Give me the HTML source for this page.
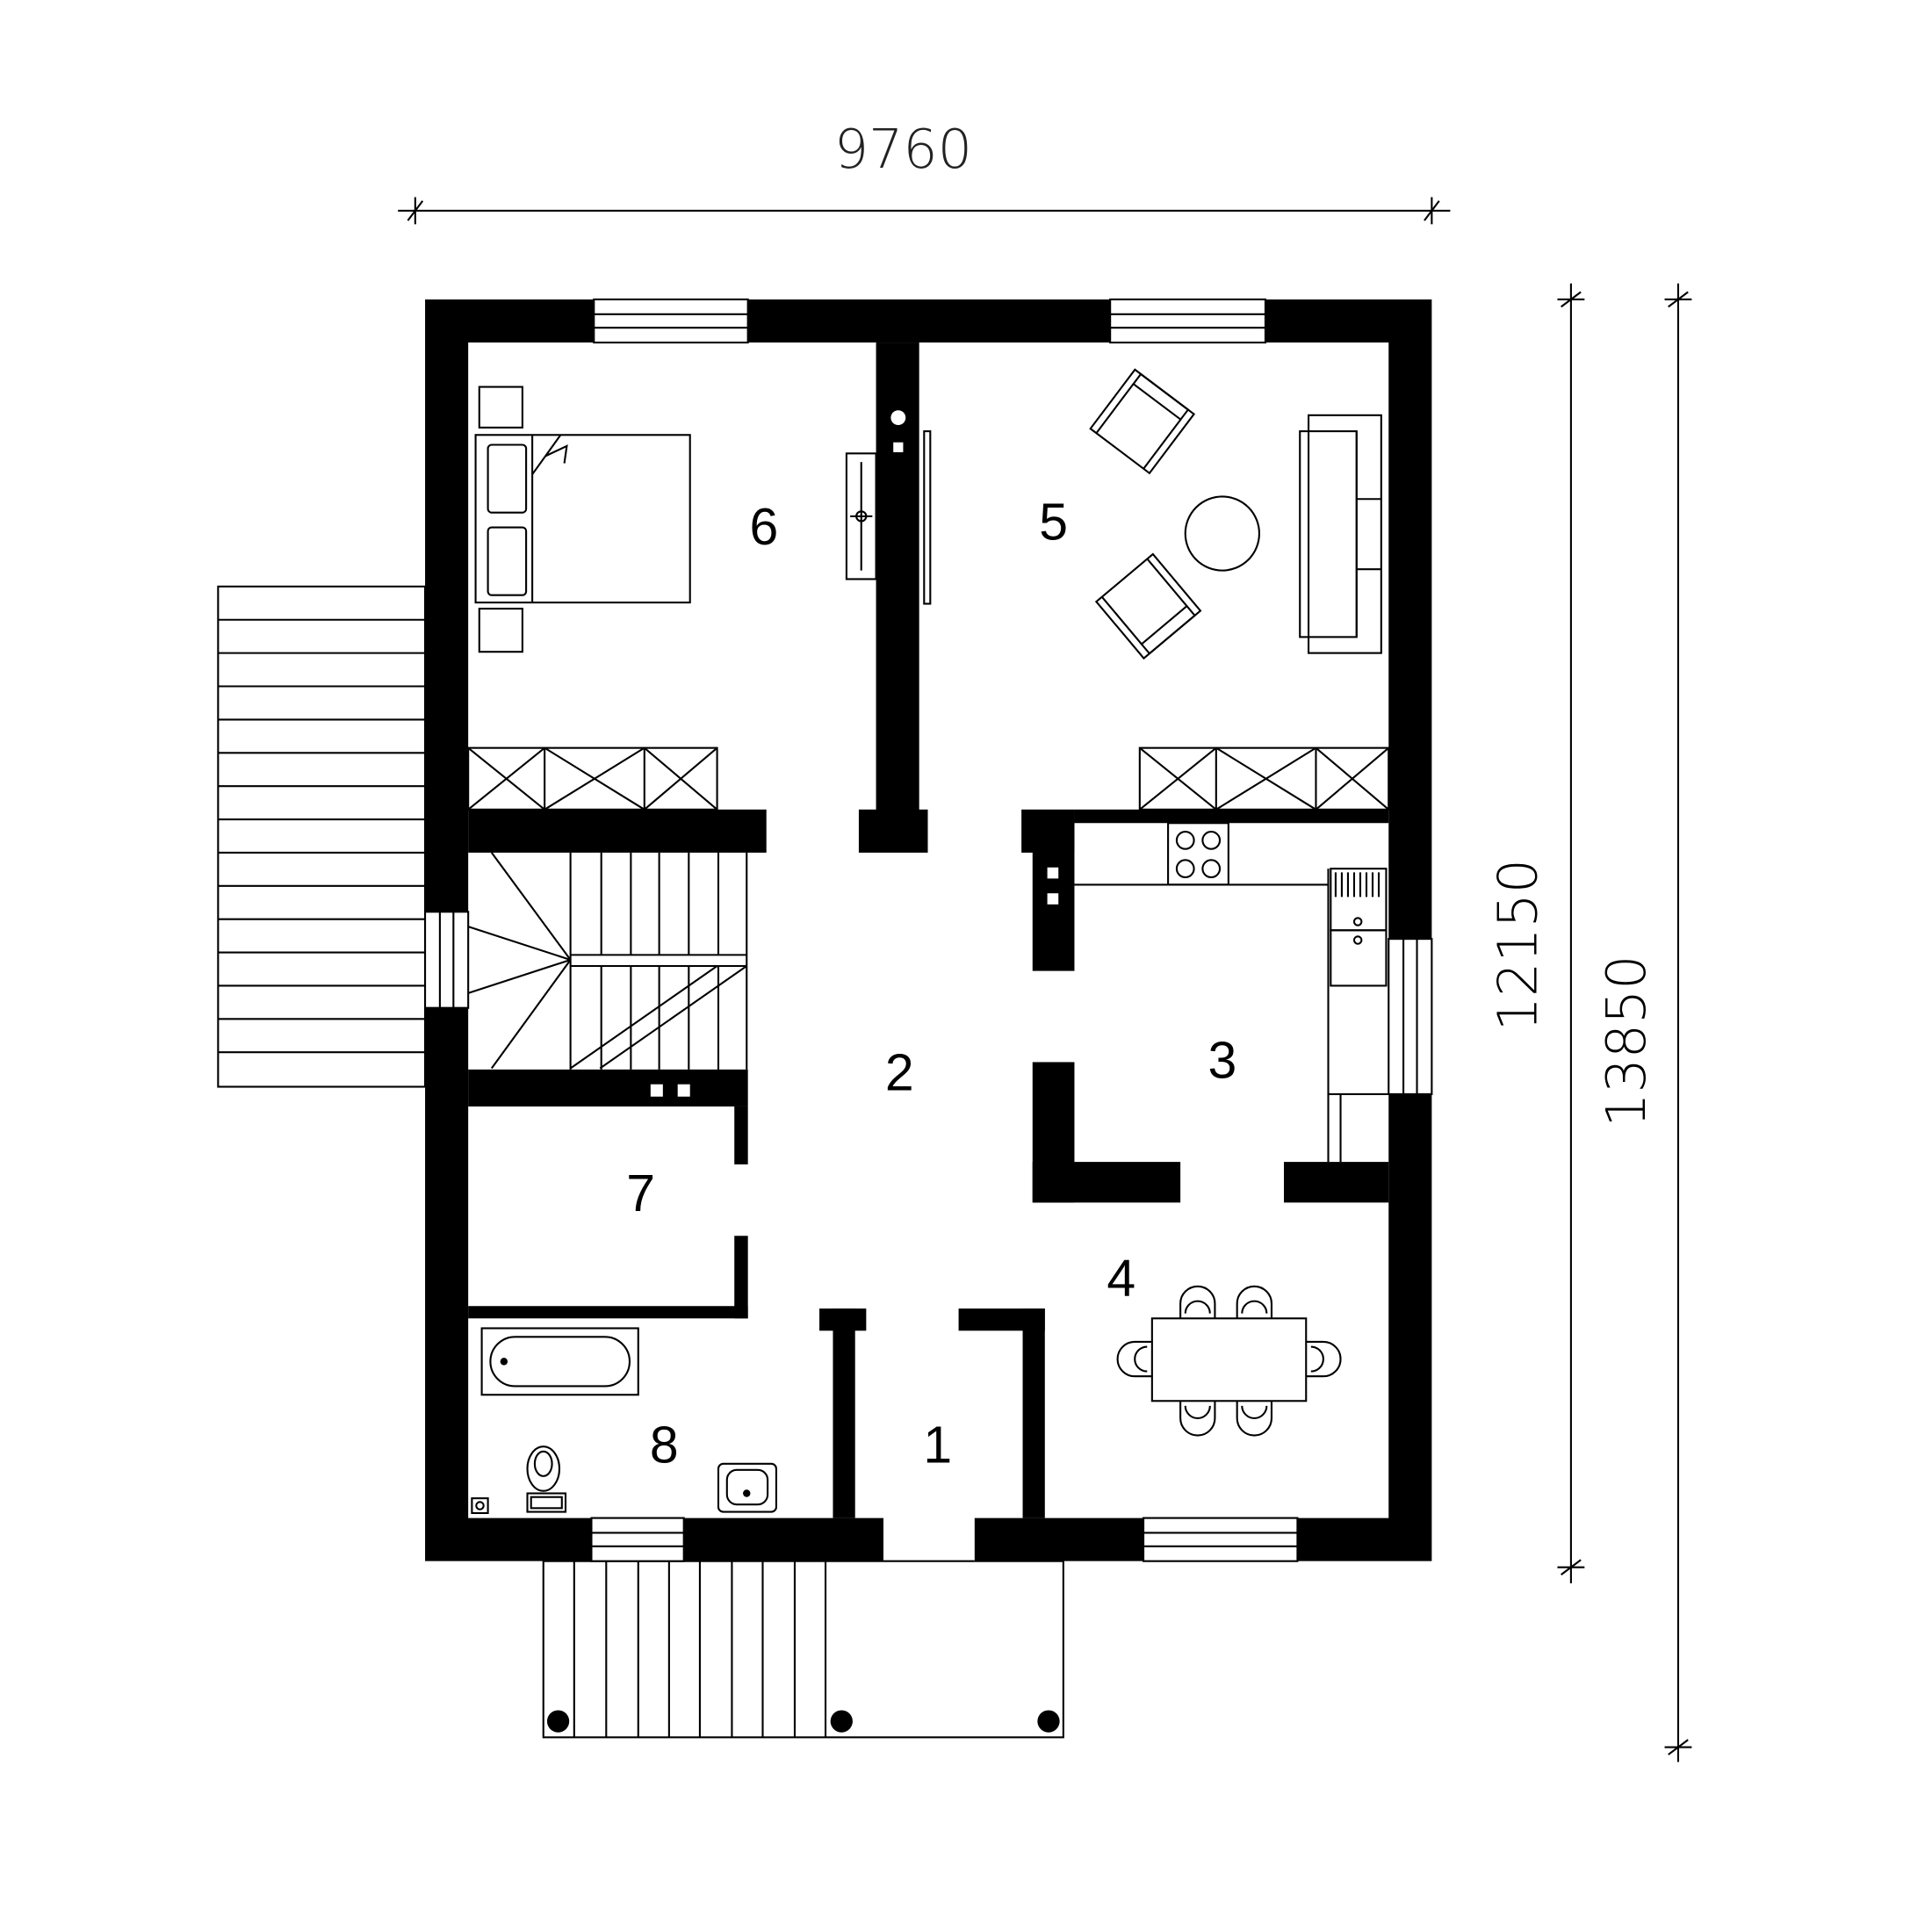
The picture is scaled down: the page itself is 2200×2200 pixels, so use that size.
<!DOCTYPE html>
<html><head><meta charset="utf-8"><style>html,body{margin:0;padding:0;background:#fff;overflow:hidden}svg{display:block}</style></head>
<body>
<svg width="2200" height="2200" viewBox="0 0 1568 1568" xmlns="http://www.w3.org/2000/svg" font-family="Liberation Sans, sans-serif">
<g stroke="#000" stroke-width="1.5" fill="none">
<line x1="323" y1="171" x2="1177" y2="171"/>
<line x1="331" y1="179" x2="343" y2="163"/><line x1="337" y1="160" x2="337" y2="182"/>
<line x1="1156" y1="179" x2="1168" y2="163"/><line x1="1162" y1="160" x2="1162" y2="182"/>
<line x1="1275" y1="230" x2="1275" y2="1285"/>
<line x1="1264" y1="243" x2="1286" y2="243"/><line x1="1267" y1="249" x2="1283" y2="237"/>
<line x1="1264" y1="1272" x2="1286" y2="1272"/><line x1="1267" y1="1278" x2="1283" y2="1266"/>
<line x1="1362" y1="230" x2="1362" y2="1430"/>
<line x1="1351" y1="243" x2="1373" y2="243"/><line x1="1354" y1="249" x2="1370" y2="237"/>
<line x1="1351" y1="1418" x2="1373" y2="1418"/><line x1="1354" y1="1424" x2="1370" y2="1412"/>
<rect x="177" y="476" width="168" height="406"/>
<path d="M177 503H345M177 530H345M177 557H345M177 584H345M177 611H345M177 638H345M177 665H345M177 692H345M177 719H345M177 746H345M177 773H345M177 800H345M177 827H345M177 854H345"/>
<rect x="441" y="1267" width="422" height="143"/>
<path d="M466 1267V1410M492 1267V1410M518 1267V1410M543 1267V1410M568 1267V1410M594 1267V1410M619 1267V1410M645 1267V1410M670 1267V1410"/>
</g>
<g fill="#000">
<circle cx="453" cy="1397" r="9"/><circle cx="683" cy="1397" r="9"/><circle cx="851" cy="1397" r="9"/>
<path fill-rule="evenodd" d="M345 243H1162V1267H345Z M380 278V1232H1127V278Z"/>
<rect x="711" y="278" width="35" height="382"/>
<rect x="697" y="657" width="56" height="35"/>
<rect x="380" y="657" width="242" height="35"/>
<rect x="829" y="657" width="43" height="35"/>
<rect x="872" y="657" width="255" height="11"/>
<rect x="838" y="668" width="34" height="120"/>
<rect x="380" y="868" width="227" height="30"/>
<rect x="596" y="898" width="11" height="47"/>
<rect x="596" y="1003" width="11" height="67"/>
<rect x="380" y="1060" width="227" height="10"/>
<rect x="676" y="1062" width="18" height="170"/>
<rect x="665" y="1062" width="38" height="18"/>
<rect x="778" y="1062" width="70" height="18"/>
<rect x="830" y="1062" width="18" height="170"/>
<rect x="838" y="862" width="34" height="114"/>
<rect x="838" y="943" width="120" height="33"/>
<rect x="1042" y="943" width="85" height="33"/>
</g>
<g fill="#fff" stroke="#000" stroke-width="1.5">
<rect x="482" y="243" width="125" height="35"/><path d="M482 255H607M482 266H607" fill="none"/>
<rect x="901" y="243" width="126" height="35"/><path d="M901 255H1027M901 266H1027" fill="none"/>
<rect x="480" y="1232" width="75" height="35"/><path d="M480 1244H555M480 1255H555" fill="none"/>
<rect x="928" y="1232" width="125" height="35"/><path d="M928 1244H1053M928 1255H1053" fill="none"/>
<rect x="345" y="740" width="35" height="78"/><path d="M357 740V818M368 740V818" fill="none"/>
<rect x="1127" y="762" width="35" height="126"/><path d="M1139 762V888M1150 762V888" fill="none"/>
</g>
<rect x="717" y="1231" width="74" height="37" fill="#fff"/>
<line x1="717" y1="1267" x2="791" y2="1267" stroke="#000" stroke-width="1.5"/>
<g fill="#fff">
<circle cx="729" cy="339" r="6"/><rect x="725" y="359" width="8" height="8"/>
<rect x="850" y="704" width="9" height="9"/><rect x="850" y="725" width="9" height="9"/>
<rect x="528" y="880" width="10" height="10"/><rect x="550" y="880" width="10" height="10"/>
</g>
<g stroke="#000" stroke-width="1.5" fill="none">
<path d="M463 692V868M488 692V775M512 692V775M535 692V775M559 692V775M583 692V775M606 692V868"/>
<path d="M463 775H606M463 784H606"/>
<path d="M488 784V868M512 784V868M535 784V868M559 784V868M583 784V868"/>
<path d="M463 779L399 692M463 779L380 752M463 779L380 806M463 779L399 867"/>
<path d="M463 867L582 784M487 867L606 784"/>
<rect x="380" y="607" width="202" height="50"/>
<path d="M442 607V657M523 607V657M380 607L442 657M442 607L380 657M442 607L523 657M523 607L442 657M523 607L582 657M582 607L523 657"/>
<rect x="925" y="607" width="202" height="50"/>
<path d="M987 607V657M1068 607V657M925 607L987 657M987 607L925 657M987 607L1068 657M1068 607L987 657M1068 607L1127 657M1127 607L1068 657"/>
<rect x="386" y="353" width="174" height="136"/>
<rect x="389" y="314" width="35" height="33"/><rect x="389" y="494" width="35" height="35"/>
<path d="M432 353V489"/>
<rect x="396" y="361" width="31" height="55" rx="3"/><rect x="396" y="428" width="31" height="55" rx="3"/>
<path d="M432 385L455 353M443 370L460 362L458 376"/>
<rect x="687" y="368" width="24" height="102"/><path d="M699 375V463M690 419H708"/><circle cx="699" cy="419" r="4"/>
<rect x="750" y="350" width="5" height="140"/>
<rect x="1062" y="337" width="59" height="193"/><rect x="1055" y="350" width="46" height="167"/>
<path d="M1101 405H1121M1101 462H1121M1101 350V517"/>
<circle cx="992" cy="433" r="30"/>
<g transform="rotate(37 927 342)"><rect x="897" y="312" width="60" height="60"/><rect x="903" y="312" width="48" height="10"/><path d="M903 322V372M951 322V372"/></g>
<g transform="rotate(-40 932 492)"><rect x="902" y="462" width="60" height="60"/><rect x="908" y="512" width="48" height="10"/><path d="M908 462V512M956 462V512"/></g>
<path d="M872 718H1078M1078 705V888M1078 888H1127M1088 888V943M1078 888V943"/>
<rect x="948" y="668" width="49" height="50"/>
<circle cx="962" cy="682" r="7"/><circle cx="983" cy="682" r="7"/><circle cx="962" cy="705" r="7"/><circle cx="983" cy="705" r="7"/>
<rect x="1080" y="705" width="45" height="50"/>
<path d="M1084 708V728M1089 708V728M1094 708V728M1099 708V728M1104 708V728M1109 708V728M1114 708V728M1119 708V728"/>
<rect x="1080" y="755" width="45" height="45"/><circle cx="1102" cy="748" r="3"/><circle cx="1102" cy="763" r="3"/>
<rect x="935" y="1070" width="125" height="67"/>
<g>
<path d="M958 1070V1058A14 14 0 0 1 986 1058V1070M1004 1070V1058A14 14 0 0 1 1032 1058V1070"/>
<path d="M962 1066A10 10 0 0 1 982 1066M1008 1066A10 10 0 0 1 1028 1066"/>
<path d="M958 1137V1151A14 14 0 0 0 986 1151V1137M1004 1137V1151A14 14 0 0 0 1032 1151V1137"/>
<path d="M962 1141A10 10 0 0 0 982 1141M1008 1141A10 10 0 0 0 1028 1141"/>
<path d="M935 1089H921A14 14 0 0 0 921 1117H935M931 1093A10 10 0 0 0 931 1113"/>
<path d="M1060 1089H1074A14 14 0 0 1 1074 1117H1060M1064 1093A10 10 0 0 1 1064 1113"/>
</g>
<rect x="391" y="1078" width="127" height="54"/>
<rect x="398" y="1085" width="113" height="40" rx="20"/>
<ellipse cx="441" cy="1192" rx="13" ry="18"/><ellipse cx="441" cy="1188" rx="7" ry="10"/><rect x="428" y="1212" width="31" height="15"/><rect x="431" y="1215" width="25" height="9"/>
<rect x="383" y="1216" width="13" height="12"/><circle cx="389.5" cy="1222" r="3"/>
<rect x="583" y="1188" width="47" height="39" rx="4"/><rect x="590" y="1193" width="33" height="28" rx="8"/>
</g>
<circle cx="409" cy="1105" r="3"/><circle cx="606" cy="1212" r="3"/>
<g font-size="42" fill="#000" text-anchor="middle">
<text x="733" y="136" font-size="44" fill="#222" font-family="DejaVu Sans, sans-serif" font-weight="200">9760</text>
<text transform="translate(1247 767) rotate(-90)" font-size="44" font-family="DejaVu Sans, sans-serif" font-weight="200">12150</text>
<text transform="translate(1335 845) rotate(-90)" font-size="44" font-family="DejaVu Sans, sans-serif" font-weight="200">13850</text>
<text x="620" y="442">6</text><text x="855" y="438">5</text><text x="730" y="885">2</text>
<text x="992" y="875">3</text><text x="520" y="983">7</text><text x="910" y="1052">4</text>
<text x="539" y="1187">8</text><text x="761" y="1187">1</text>
</g>
</svg>
</body></html>
